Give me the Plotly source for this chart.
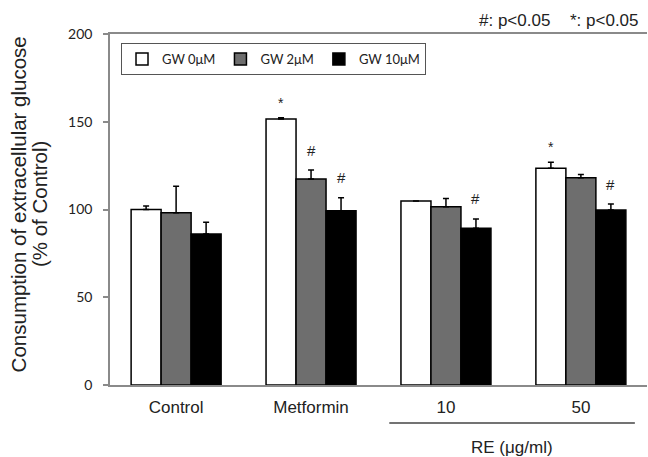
import plotly.graph_objects as go

# ---- data ----
groups = ["Control", "Metformin", "10", "50"]
series_names = ["GW 0μM", "GW 2μM", "GW 10μM"]
gw0 = [100.0, 151.5, 104.8, 123.5]
gw2 = [98.2, 117.4, 101.6, 118.1]
gw10 = [86.0, 99.3, 89.3, 99.7]
gw0_err = [2.0, 0.8, 0.0, 3.4]
gw2_err = [15.0, 5.1, 4.6, 1.9]
gw10_err = [6.7, 7.4, 5.3, 3.4]
# significance marks per series ("" = none)
gw0_sig = ["", "*", "", "*"]
gw2_sig = ["", "#", "", ""]
gw10_sig = ["", "#", "#", "#"]
y_ticks = [0, 50, 100, 150, 200]

values = [gw0, gw2, gw10]
errors = [gw0_err, gw2_err, gw10_err]
sigs = [gw0_sig, gw2_sig, gw10_sig]
fills = ["#ffffff", "#6e6e6e", "#000000"]

fig = go.Figure()
for name, vals, errs, col in zip(series_names, values, errors, fills):
    fig.add_trace(go.Bar(
        x=groups, y=vals, name=name,
        marker=dict(color=col, line=dict(color="#000000", width=1.5)),
        error_y=dict(type="data", symmetric=False, array=errs,
                     arrayminus=[0] * len(errs), color="#000000",
                     thickness=1.5, width=3),
    ))

# significance annotations, positioned from data
bar_w = (1 - 0.333) / 3
for si, (vals, errs, marks) in enumerate(zip(values, errors, sigs)):
    for gi, m in enumerate(marks):
        if not m:
            continue
        xpos = gi + (si - 1) * bar_w
        fig.add_annotation(
            x=xpos, y=vals[gi] + errs[gi], xref="x", yref="y",
            text=m, showarrow=False, yanchor="middle",
            yshift=15 if m == "*" else 20,
            font=dict(family="Liberation Sans, Arial", size=15 if m == "#" else 14,
                      color="#222222"),
        )

AX = "#8a8a8a"
fig.update_layout(
    width=648, height=457,
    margin=dict(l=110, r=1, t=34, b=72),
    paper_bgcolor="white", plot_bgcolor="white",
    barmode="group", bargap=0.333, bargroupgap=0,
    showlegend=True,
    legend=dict(orientation="h", x=0.0205, y=0.974, xanchor="left", yanchor="top",
                bordercolor="#555555", borderwidth=1, bgcolor="white",
                font=dict(family="Lato, Open Sans", size=13, color="#222222"),
                itemwidth=30, tracegroupgap=0),
    xaxis=dict(range=[-0.49, 3.49], showline=True, linecolor=AX, linewidth=1.5,
               mirror=True, ticks="", showgrid=False, zeroline=False,
               tickfont=dict(family="Liberation Sans, Arial", size=17, color="#222222"),
               ticklabelstandoff=6),
    yaxis=dict(range=[0, 200], tickvals=y_ticks, showline=True, linecolor=AX,
               linewidth=1.5, ticks="outside", ticklen=5, tickcolor=AX, tickwidth=1.5,
               showgrid=False, zeroline=False, ticklabelstandoff=8,
               tickfont=dict(family="Lato, Open Sans", size=14, color="#222222")),
)

# y-axis title (two lines)
fig.add_annotation(x=-0.1704, y=0.516, xref="paper", yref="paper", textangle=-90,
                   text="Consumption of extracellular glucose", showarrow=False,
                   xanchor="center", yanchor="middle",
                   font=dict(family="Liberation Sans, Arial", size=20.5, color="#222222"))
fig.add_annotation(x=-0.1300, y=0.516, xref="paper", yref="paper", textangle=-90,
                   text="(% of Control)", showarrow=False,
                   xanchor="center", yanchor="middle",
                   font=dict(family="Liberation Sans, Arial", size=20.5, color="#222222"))

# RE bracket line and label
fig.add_shape(type="line", xref="x", yref="paper", x0=1.58, x1=3.40, y0=-0.108, y1=-0.108,
              line=dict(color="#444444", width=1.5))
fig.add_annotation(x=2.49, y=-0.178, xref="x", yref="paper", text="RE (μg/ml)",
                   showarrow=False, xanchor="center", yanchor="middle",
                   font=dict(family="Liberation Sans, Arial", size=17, color="#222222"))

# p-value notes at top right
fig.add_annotation(x=(514.5 - 110) / 537, y=(385 - 20) / 351, xref="paper", yref="paper",
                   text="#: p<0.05", showarrow=False, xanchor="center", yanchor="middle",
                   font=dict(family="Liberation Sans, Arial", size=17, color="#222222"))
fig.add_annotation(x=(604.5 - 110) / 537, y=(385 - 20) / 351, xref="paper", yref="paper",
                   text="*: p<0.05", showarrow=False, xanchor="center", yanchor="middle",
                   font=dict(family="Liberation Sans, Arial", size=17, color="#222222"))

fig.write_html("out.html")
